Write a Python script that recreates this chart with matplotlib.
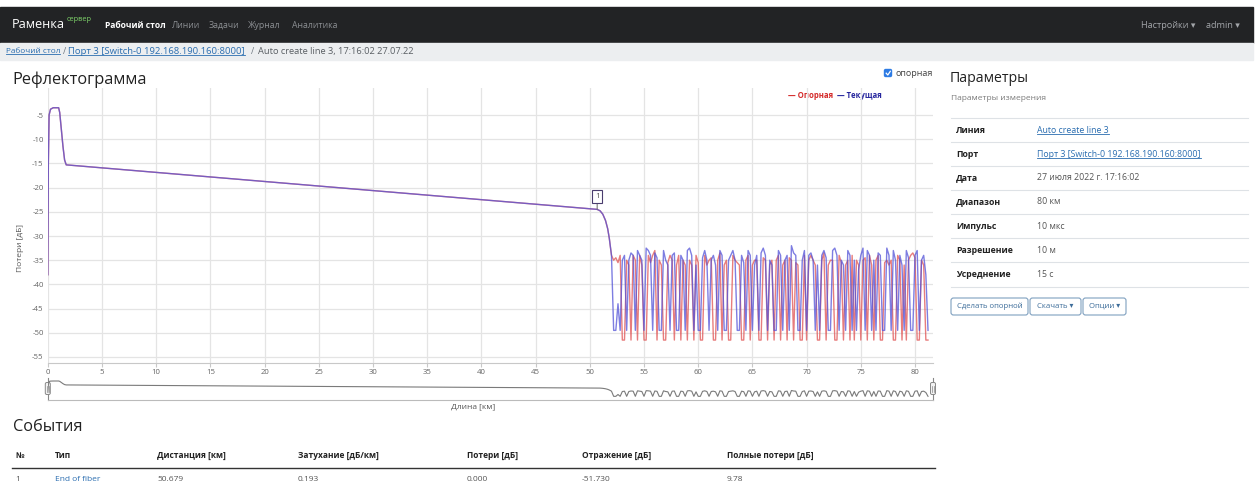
import matplotlib
matplotlib.use('Agg')
import matplotlib.pyplot as plt
from matplotlib.patches import Rectangle, FancyBboxPatch
import numpy as np

# ---------------- data ----------------
# shared part of both traces (km, dB)
trace_km = [0.0, 0.05, 0.12, 0.25, 0.5, 1.0, 1.1, 1.25, 1.4, 1.55, 1.7,
            50.68, 50.95, 51.2, 51.45, 51.65, 51.8, 51.95]
trace_db = [-38.0, -15.0, -5.0, -3.8, -3.5, -3.5, -4.5, -8.0, -11.5, -14.3, -15.3,
            -24.5, -24.8, -25.5, -26.8, -28.5, -30.5, -33.0]

noise_start_km = 52.0
noise_step_km = 0.2
B = -49.5   # floor of the current trace
R = -51.5   # floor of the reference trace
# current trace (blue) after the fibre end, one value per 0.2 km from 52 km
current_noise_db = [
    -34, B, B, -44, B,            -35, -34, B, -35, -33.5,
    -34, B, -33, -34, -35,        B, -32.5, -33, -34, B,
    -33.5, -34.5, B, B, -33,      -35, -36, B, -34, -33.5,
    B, B, -34, -35, B,            -33, -32.5, -34, B, -36,
    B, B, -34.5, -33, -35,        B, -35, -34, -36, B,
    -33, -34, B, B, -35,          -34, -33, -35, B, B,
    -34, -35.5, B, -33, -34,      B, -36, -34, B, -33.5,
    -32.5, -34, B, -35, -36,      B, B, -33, -34, B,
    -35, -34, B, -32, -33.5,      -34, B, B, -35, -33,
    B, -34, -33.5, -35, B,        -36, B, -34, -33, -34.5,
    B, B, -33, -32.5, -34,        B, -35, -36, B, -33,
    -34, B, -35, B, -37,          -34, -32.5, B, -33, -34,
    B, -35, B, -33.5, -34,        B, B, -32.5, -34, B,
    -33, -35, B, -34, -36,        B, -33, -34.5, B, B,
    -34, -33, B, -35, -34,        -38, B]
# reference trace (red) after the fibre end, one value per 0.2 km from 52 km
reference_noise_db = [
    -34, -35, -34.5, -35.5, -34,  R, R, -35, -36, R,
    -34, -35, R, -34, -36,        R, R, -34, -35.5, -34,
    -33, R, -35, -36, R,          R, -35.5, -34, -35, R,
    -36, -34, R, -35, -36,        R, -35, -36, R, -34,
    -35.5, R, R, -34, -36,        -35, -34.5, R, R, -35,
    -33.5, R, -36, -35, R,        R, -34, -35, -35.5, -36,
    R, R, -35, -34, R,            -36, -35, -35, R, R,
    -34.5, -35, R, -36, -35,      R, -35, -34, R, -36,
    -35, R, -34.5, -35, R,        -35.5, -36, R, R, -34,
    R, -35, -34, -35, -36,        R, R, -35, -33.5, R,
    -36, -35, -35, R, R,          -34, -35.5, R, -36, -35,
    R, -34, R, -35, -36,          R, -35, -34.5, R, -34,
    -36, R, -35, -34, R,          R, -35.5, -35, -36, -35,
    R, R, -34, -35, R,            -36, R, -35, -34, -33.5,
    -34.5, R, R, -35, -36,        R, R]

x_ticks = [0, 5, 10, 15, 20, 25, 30, 35, 40, 45, 50, 55, 60, 65, 70, 75, 80]
y_ticks = [-5, -10, -15, -20, -25, -30, -35, -40, -45, -50, -55]

param_labels = ['Линия', 'Порт', 'Дата', 'Диапазон', 'Импульс', 'Разрешение', 'Усреднение']
param_values = ['Auto create line 3', 'Порт 3 [Switch-0 192.168.190.160:8000]',
                '27 июля 2022 г. 17:16:02', '80 км', '10 мкс', '10 м', '15 с']
param_is_link = [True, True, False, False, False, False, False]

event_headers = ['№', 'Тип', 'Дистанция [км]', 'Затухание [дБ/км]', 'Потери [дБ]',
                 'Отражение [дБ]', 'Полные потери [дБ]']
event_no = ['1']
event_type = ['End of fiber']
event_distance = [50.679]
event_atten = ['0.193']
event_loss = ['0.000']
event_refl = ['-51.730']
event_total = ['9.78']

# ---------------- figure ----------------
W, H = 1257, 487
plt.rcParams['axes.unicode_minus'] = False
fig = plt.figure(figsize=(W / 100, H / 100), dpi=100)
FONT = ['Open Sans', 'DejaVu Sans']
plt.rcParams['font.family'] = FONT

bg = fig.add_axes([0, 0, 1, 1])
bg.set_xlim(0, W)
bg.set_ylim(H, 0)
bg.axis('off')

LINK = '#2a6db0'
texts_to_underline = []


def t(x, y, s, size, color='#212529', weight='normal', ha='left', va='center', underline=False):
    tx = bg.text(x, y, s, fontsize=size, color=color, fontweight=weight, ha=ha, va=va,
                 family=FONT)
    if underline:
        texts_to_underline.append(tx)
    return tx


# navbar
bg.add_patch(Rectangle((0, 7), 1253, 36, color='#222325', zorder=0))
t(12, 25, 'Раменка', 9.2, color='white')
t(67, 19.5, 'сервер', 5.3, color='#7ed36a')
t(105, 25, 'Рабочий стол', 6.1, color='white', weight='bold')
for x, s in [(172, 'Линии'), (209, 'Задачи'), (248, 'Журнал'), (292, 'Аналитика')]:
    t(x, 25, s, 6.3, color='#8b8e92')
t(1141, 25, 'Настройки ▾', 6.6, color='#a2a5a9')
t(1206, 25, 'admin ▾', 6.6, color='#a2a5a9')

# breadcrumb
bg.add_patch(Rectangle((0, 43), 1253, 17, color='#eceef0', zorder=0))
t(6, 51.5, 'Рабочий стол', 5.9, color=LINK, underline=True)
t(63, 51.5, '/', 6.3, color='#6c757d')
t(68, 51.5, 'Порт 3 [Switch-0 192.168.190.160:8000]', 6.8, color=LINK, underline=True)
t(251, 51.5, '/', 6.3, color='#6c757d')
t(258, 51.5, 'Auto create line 3, 17:16:02 27.07.22', 6.7, color='#5a5f64')

# chart title, checkbox and legend
t(12, 80, 'Рефлектограмма', 11.8, color='#222')
bg.add_patch(FancyBboxPatch((884.5, 69.5), 7, 7, boxstyle='round,pad=0,rounding_size=1.2',
                            facecolor='#2d7be4', edgecolor='#2d7be4'))
bg.plot([886.2, 887.8, 890.3], [73.2, 75.0, 71.3], color='white', lw=0.9)
t(895, 73.5, 'опорная', 6.5, color='#444')
t(788, 95, '— Опорная', 5.6, color='#d42a2a', weight='bold')
t(837, 95, '— Текущая', 5.6, color='#26269e', weight='bold')

# parameters panel
t(950, 78, 'Параметры', 10.2, color='#222')
t(951, 98, 'Параметры измерения', 6, color='#7a7a7a')
row_y = [130.5, 154.5, 178, 202, 226.5, 250.5, 274.5]
for y, lab, val, lk in zip(row_y, param_labels, param_values, param_is_link):
    t(956, y, lab, 6.3, color='#222', weight='bold')
    t(1037, y, val, 6.3, color=LINK if lk else '#555', underline=lk)
for y in [118, 142, 165.5, 189.5, 213.5, 237.5, 262, 286.5]:
    bg.plot([951, 1248], [y, y], color='#dee2e6', lw=0.8)
for x0, x1, s in [(951, 1028, 'Сделать опорной'), (1030, 1081, 'Скачать ▾'), (1083, 1126, 'Опции ▾')]:
    bg.add_patch(FancyBboxPatch((x0, 298), x1 - x0, 17, boxstyle='round,pad=0,rounding_size=2.5',
                                facecolor='white', edgecolor='#7fa0bf', lw=0.8))
    t((x0 + x1) / 2, 306.5, s, 5.6, color='#3d6d9a', ha='center')

# events section
t(13, 427, 'События', 11.8, color='#222')
col_x = [15, 55, 157, 298, 467, 582, 727]
for x, s in zip(col_x, event_headers):
    t(x, 455, s, 6, color='#222', weight='bold')
bg.plot([12, 935], [467.5, 467.5], color='#333', lw=1.0)
for i in range(len(event_no)):
    row = [event_no[i], event_type[i], f'{event_distance[i]:.3f}', event_atten[i],
           event_loss[i], event_refl[i], event_total[i]]
    for j, (x, s) in enumerate(zip(col_x, row)):
        t(x, 479.5, s, 6, color=LINK if j == 1 else '#555')

# axis labels of the chart
t(473, 407, 'Длина [км]', 6, color='#555', ha='center')
t(20, 248, 'Потери [дБ]', 6, color='#555', ha='center').set_rotation(90)

# ---------------- main chart ----------------
PX_L, PX_R, PX_T, PX_B = 47.8, 933, 88, 363
ax = fig.add_axes([PX_L / W, 1 - PX_B / H, (PX_R - PX_L) / W, (PX_B - PX_T) / H])
ax.set_facecolor('none')
ax.set_xlim(0, 81.66)
ax.set_ylim(-56.24, 0.58)

km_noise_cur = noise_start_km + noise_step_km * np.arange(len(current_noise_db))
km_noise_ref = noise_start_km + noise_step_km * np.arange(len(reference_noise_db))
cur_x = np.concatenate([trace_km, km_noise_cur])
cur_y = np.concatenate([trace_db, current_noise_db])
ref_x = np.concatenate([trace_km, km_noise_ref])
ref_y = np.concatenate([trace_db, reference_noise_db])

ax.plot(ref_x, ref_y, color='#e05252', lw=1.0, alpha=0.75, zorder=3)
ax.plot(cur_x, cur_y, color='#5252d8', lw=1.0, alpha=0.75, zorder=4)

ax.set_xticks(x_ticks)
ax.set_yticks(y_ticks)
ax.grid(True, color='#e4e4e4', lw=0.9)
ax.set_axisbelow(True)
for s in ['top', 'right', 'left']:
    ax.spines[s].set_visible(False)
ax.spines['bottom'].set_color('#c8c8c8')
ax.tick_params(axis='x', length=3, color='#c8c8c8', labelsize=5.6, labelcolor='#666', pad=1.5)
ax.tick_params(axis='y', length=0, labelsize=5.6, labelcolor='#666', pad=3)
for lab in ax.get_xticklabels() + ax.get_yticklabels():
    lab.set_family(FONT)

# event marker
for i, d in enumerate(event_distance):
    yv = np.interp(d, cur_x, cur_y)
    ax.annotate(event_no[i], xy=(d, yv), xytext=(0, 9), textcoords='offset points',
                ha='center', va='center', fontsize=6, color='#555', family=FONT,
                bbox=dict(boxstyle='square,pad=0.35', fc='white', ec='#4a3d6e', lw=0.8),
                arrowprops=dict(arrowstyle='-', color='#666', lw=0.7, shrinkA=0, shrinkB=0),
                zorder=6)

# ---------------- navigator ----------------
NV_T, NV_B = 376, 400
nav = fig.add_axes([PX_L / W, 1 - NV_B / H, (PX_R - PX_L) / W, (NV_B - NV_T) / H])
nav.set_facecolor('none')
nav.set_xlim(0, 81.66)
nav.set_ylim(-60.5, 11.5)
nav.plot(cur_x, cur_y, color='#7a7a7a', lw=0.8)
for s in ['top', 'right', 'left']:
    nav.spines[s].set_visible(False)
nav.spines['bottom'].set_color('#bbbbbb')
nav.set_xticks([])
nav.set_yticks([])

# navigator handles
for xp in [PX_L, PX_R]:
    bg.plot([xp, xp], [NV_T + 2, NV_B], color='#888', lw=0.8)
    bg.add_patch(FancyBboxPatch((xp - 2.5, 382.5), 5, 12, boxstyle='round,pad=0,rounding_size=1.5',
                                facecolor='#f2f2f2', edgecolor='#888', lw=0.7, zorder=5))
    bg.plot([xp - 0.7, xp - 0.7], [385.5, 391.5], color='#888', lw=0.5, zorder=6)
    bg.plot([xp + 0.7, xp + 0.7], [385.5, 391.5], color='#888', lw=0.5, zorder=6)

# underline links
fig.canvas.draw()
r = fig.canvas.get_renderer()
inv = bg.transData.inverted()
for tx in texts_to_underline:
    bb = tx.get_window_extent(r)
    (x0, y0), (x1, y1) = inv.transform([(bb.x0, bb.y0), (bb.x1, bb.y1)])
    yb = max(y0, y1) - 1.2
    bg.plot([x0, x1], [yb, yb], color=tx.get_color(), lw=0.6)

fig.savefig('out.png', dpi=100, facecolor='white')
